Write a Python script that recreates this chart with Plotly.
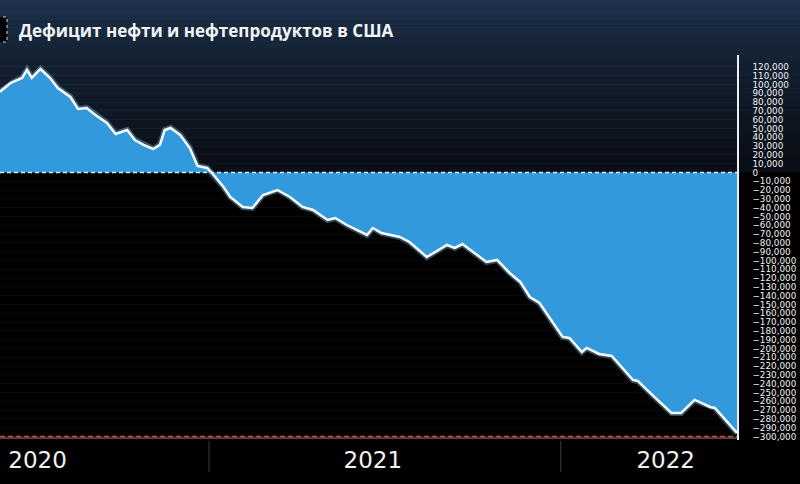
import plotly.graph_objects as go
from datetime import date

# ---------------- data ----------------
dates = [
    "2020-05-29", "2020-06-09", "2020-06-14", "2020-06-21", "2020-06-26", "2020-07-01",
    "2020-07-10", "2020-07-20", "2020-07-28", "2020-08-10", "2020-08-18", "2020-08-27",
    "2020-09-05", "2020-09-17", "2020-09-26", "2020-10-08", "2020-10-16", "2020-10-25",
    "2020-11-04", "2020-11-11", "2020-11-16", "2020-11-22", "2020-12-02", "2020-12-12",
    "2020-12-20", "2020-12-30", "2021-01-04", "2021-01-16", "2021-01-23", "2021-02-05",
    "2021-02-15", "2021-02-26", "2021-03-13", "2021-03-26", "2021-04-08", "2021-04-19",
    "2021-05-04", "2021-05-12", "2021-05-24", "2021-06-14", "2021-06-20", "2021-06-29",
    "2021-07-18", "2021-07-28", "2021-08-15", "2021-09-05", "2021-09-13", "2021-09-21",
    "2021-10-16", "2021-10-27", "2021-11-09", "2021-11-20", "2021-11-30", "2021-12-10",
    "2022-01-03", "2022-01-10", "2022-01-23", "2022-01-28", "2022-02-10", "2022-02-23",
    "2022-03-17", "2022-03-22", "2022-04-06", "2022-04-26", "2022-05-06", "2022-05-20",
    "2022-05-27", "2022-06-05", "2022-06-10", "2022-07-03",
]
values = [
    91800, 101700, 104000, 107400, 116500, 107400,
    117600, 107400, 96000, 85800, 72200, 73300,
    65300, 56300, 43800, 48300, 36900, 31300,
    26700, 31300, 48300, 50600, 42600, 27800,
    7400, 5100, -600, -16500, -27800, -39200,
    -40300, -25600, -19900, -27800, -39200, -42600,
    -54000, -51700, -59700, -71000, -63100, -68800,
    -73300, -79000, -96000, -82400, -85800, -81300,
    -101700, -99400, -114200, -124400, -141500, -148300,
    -186900, -188100, -204000, -199400, -206200, -208500,
    -235800, -236900, -252800, -273300, -273300, -258500,
    -261900, -266500, -267600, -296000,
]
y_ticks = list(range(-300000, 120001, 10000))
year_labels = ["2020", "2021", "2022"]
year_label_dates = ["2020-07-07", "2021-06-20", "2022-04-20"]
year_boundaries = ["2021-01-01", "2022-01-01"]
title_text = "Дефицит нефти и нефтепродуктов в США"

# ---------------- layout constants ----------------
W, H = 800, 484
ML, MR, MT, MB = 0, 63, 55, 44
PW, PH = W - ML - MR, H - MT - MB
YMIN, YMAX = -304000, 133500


def px_to_paper_y(p):
    return (H - MB - p) / PH


def px_to_paper_x(p):
    return (p - ML) / PW


def d(s):
    return date.fromisoformat(s)


t0, t1 = d(dates[0]), d(dates[-1])


def date_to_paper_x(s):
    return (d(s) - t0).days / (t1 - t0).days


zero_paper = (0 - YMIN) / (YMAX - YMIN)
bottom_paper = (-300000 - YMIN) / (YMAX - YMIN)

fig = go.Figure()

# glow under line
fig.add_trace(go.Scatter(
    x=dates, y=values, mode="lines",
    line=dict(color="rgba(140,210,255,0.35)", width=6),
    hoverinfo="skip", showlegend=False,
))
fig.add_trace(go.Scatter(
    x=dates, y=values, mode="lines",
    fill="tozeroy", fillcolor="#3199dc",
    line=dict(color="#f4fbff", width=2.5),
    showlegend=False,
))

shapes = []
# navy gradient background above zero line (including title area)
top_paper = px_to_paper_y(0)
N = 40
c_top = (31, 53, 80)
c_bot = (9, 13, 20)
for i in range(N):
    f0 = i / N
    f1 = (i + 1) / N
    y_hi = top_paper - (top_paper - zero_paper) * f0
    y_lo = top_paper - (top_paper - zero_paper) * f1
    t = ((f0 + f1) / 2) ** 0.7
    col = tuple(int(round(c_top[k] + (c_bot[k] - c_top[k]) * t)) for k in range(3))
    shapes.append(dict(
        type="rect", xref="paper", yref="paper",
        x0=px_to_paper_x(-2), x1=px_to_paper_x(W + 2), y0=y_lo, y1=y_hi + 0.001,
        fillcolor="rgb(%d,%d,%d)" % col, line=dict(width=0), layer="below",
    ))

# zero dashed line
shapes.append(dict(
    type="line", xref="paper", yref="y", x0=0, x1=1, y0=0, y1=0,
    line=dict(color="#d6ecff", width=1.6, dash="4px,3px"), layer="above",
))
# bottom red line
shapes.append(dict(
    type="line", xref="paper", yref="paper", x0=0, x1=1,
    y0=bottom_paper - 0.004, y1=bottom_paper - 0.004,
    line=dict(color="rgba(255,210,210,0.6)", width=1), layer="above",
))
shapes.append(dict(
    type="line", xref="paper", yref="paper", x0=0, x1=1,
    y0=bottom_paper, y1=bottom_paper,
    line=dict(color="#e0403a", width=1.3, dash="5px,3px"), layer="above",
))
# year separators
for b in year_boundaries:
    xp = date_to_paper_x(b)
    shapes.append(dict(
        type="line", xref="paper", yref="paper", x0=xp, x1=xp,
        y0=px_to_paper_y(441), y1=px_to_paper_y(472),
        line=dict(color="#3a3a3a", width=1), layer="above",
    ))
# small legend icon
shapes.append(dict(
    type="rect", xref="paper", yref="paper",
    x0=px_to_paper_x(-3), x1=px_to_paper_x(7),
    y0=px_to_paper_y(42), y1=px_to_paper_y(17),
    fillcolor="black", line=dict(color="#cfd8e0", width=1, dash="dot"), layer="above",
))

annotations = [dict(
    text="<b>" + title_text + "</b>", xref="paper", yref="paper",
    x=px_to_paper_x(17), y=px_to_paper_y(30), xanchor="left", yanchor="middle",
    showarrow=False, font=dict(family="Open Sans", size=17, color="#f2f5f8"),
)]

fig.update_layout(
    width=W, height=H,
    margin=dict(l=ML, r=MR, t=MT, b=MB, autoexpand=False),
    paper_bgcolor="black", plot_bgcolor="rgba(0,0,0,0)",
    shapes=shapes, annotations=annotations,
    showlegend=False,
    xaxis=dict(
        type="date", range=[dates[0], dates[-1]],
        tickvals=year_label_dates, ticktext=year_labels,
        tickfont=dict(family="DejaVu Sans", size=23, color="#f2f2f2"),
        ticks="", ticklabelstandoff=4,
        showgrid=False, zeroline=False, showline=False, fixedrange=True,
        automargin=False,
    ),
    yaxis=dict(
        side="right", range=[YMIN, YMAX],
        tickvals=y_ticks, tickformat=",",
        tickfont=dict(family="DejaVu Sans", size=8.8, color="#f0f0f0"),
        ticks="", ticklabelstandoff=12,
        showline=True, linecolor="#e8eef4", linewidth=1.5,
        showgrid=True, gridcolor="rgba(255,255,255,0.035)", gridwidth=1,
        zeroline=False, fixedrange=True, automargin=False,
    ),
)

fig.write_html(
    "out.html",
    config={"displayModeBar": False},
    post_script="document.body.style.margin='0';document.body.style.background='black';",
)
